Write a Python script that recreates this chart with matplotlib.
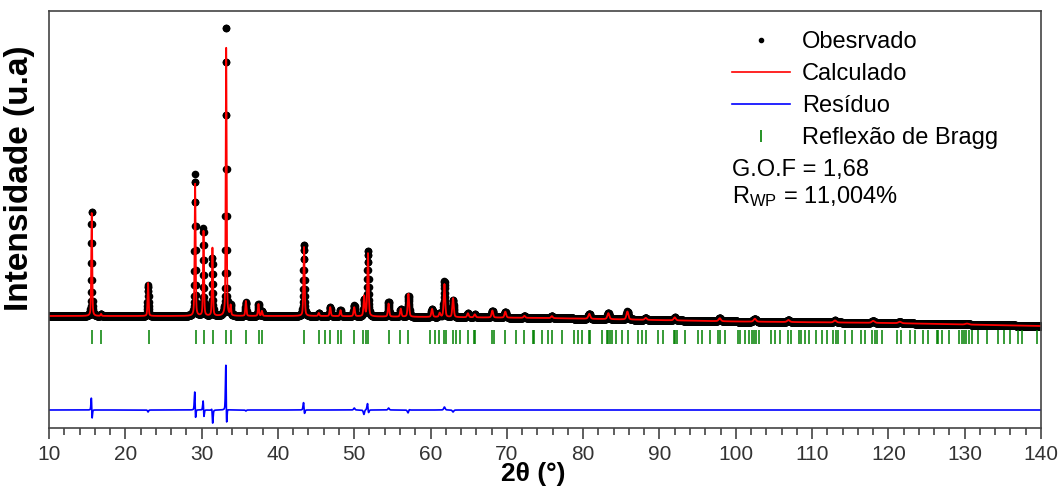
import numpy as np
import matplotlib
matplotlib.use("Agg")
import matplotlib.pyplot as plt
from matplotlib.lines import Line2D
from matplotlib.ticker import MultipleLocator

plt.rcParams['font.family'] = ['Liberation Sans', 'DejaVu Sans']
plt.rcParams['mathtext.default'] = 'regular'

# peaks (2theta, calc height, obs height, obs shift, fwhm)
peak_pos = [15.60, 16.82, 22.98, 29.15, 30.25, 31.42, 33.22, 33.80, 35.80, 37.45,
            37.90, 43.42, 45.35, 46.85, 48.20, 50.00, 51.30, 51.80, 54.50, 56.10,
            57.10, 60.20, 61.20, 61.82, 62.95, 64.90, 65.80, 68.10, 69.80, 72.30,
            75.90, 80.80, 83.30, 85.80, 88.20, 92.00, 97.90, 102.50, 106.90, 113.00,
            118.00, 121.50, 130.30]
calc_h = [103, 2, 33, 134, 86, 68, 268, 10, 15, 12,
          5, 69, 3, 9, 6, 9, 20, 63, 13, 8,
          23, 8, 4, 33, 19, 4, 3, 7, 6, 2,
          2, 5, 6, 8, 2, 3, 3, 3, 2, 2,
          2, 1.5, 1]
obs_h = [106, 2, 31, 142, 88, 58, 293, 10, 14, 12,
         5, 72, 3, 9, 6, 11, 16, 66, 15, 8,
         21, 8, 4, 36, 17, 4, 3, 7, 6, 2,
         2, 5, 6, 8, 2, 3, 3, 3, 2, 2,
         2, 1.5, 1]
obs_shift = [-0.01, 0, 0, -0.01, -0.01, -0.01, -0.01, 0, 0, 0,
             0, -0.01, 0, 0, 0, 0, 0.01, -0.01, 0, 0,
             0.01, 0, 0, 0, 0, 0, 0, 0, 0, 0,
             0, 0, 0, 0, 0, 0, 0, 0, 0, 0,
             0, 0, 0]
fwhm = [0.14, 0.14, 0.15, 0.15, 0.15, 0.15, 0.14, 0.15, 0.16, 0.16,
        0.16, 0.18, 0.18, 0.18, 0.18, 0.2, 0.2, 0.2, 0.2, 0.2,
        0.22, 0.22, 0.22, 0.22, 0.22, 0.24, 0.24, 0.24, 0.25, 0.25,
        0.26, 0.3, 0.3, 0.3, 0.3, 0.32, 0.34, 0.36, 0.38, 0.4,
        0.42, 0.44, 0.5]

# background anchor points
bg_x = [10, 45, 75, 100, 120, 140]
bg_y = [112, 112, 110, 106.5, 105, 102]

bragg = [15.64, 16.82, 23.06, 29.3, 30.27, 31.45, 33.24, 33.8, 35.78, 37.5, 37.9,
         43.42, 45.35, 46.17, 46.87, 47.9, 48.27, 50.0, 51.2, 51.55, 51.77,
         54.56, 56.04, 57.09, 59.97, 60.59, 61.16, 61.81, 62.0, 62.9, 63.34,
         63.9, 64.87, 65.74, 65.87, 68.06, 68.28, 69.76, 71.16, 72.3, 73.4,
         73.5, 74.6, 75.35, 75.88, 77.19, 78.76, 79.28, 79.89, 80.77, 80.9,
         82.43, 83.09, 83.3, 83.5, 83.75, 84.27, 85.14, 85.84, 87.24, 87.68,
         88.24, 89.86, 90.51, 91.96, 92.1, 92.3, 93.35, 95.0, 95.54, 96.59,
         97.72, 97.94, 98.6, 100.3, 100.6, 101.2, 101.74, 102.1, 102.4, 102.7,
         103.0, 104.6, 105.15, 105.8, 106.9, 107.3, 108.3, 108.6, 109.08, 109.65,
         110.48, 111.27, 111.9, 112.8, 113.1, 113.44, 114.3, 115.2, 116.4, 116.95,
         117.9, 118.25, 118.5, 119.2, 121.1, 121.67, 122.8, 123.5, 124.6, 125.2,
         126.35, 126.55, 127.0, 127.95, 129.2, 129.6, 129.9, 130.2, 130.5, 130.9,
         131.7, 132.9, 134.4, 135.2, 135.95, 136.95, 137.5, 139.45]

resid_offset = 18


def pv(x, p, h, w, eta=0.4):
    d = (x - p) / w
    return h * ((1 - eta) * np.exp(-4 * np.log(2) * d ** 2) + eta / (1 + 4 * d ** 2))


tt = np.arange(10, 140.001, 0.02)
background = np.interp(tt, bg_x, bg_y)
calc = background.copy()
obs = background.copy()
for p, hc, ho, s, w in zip(peak_pos, calc_h, obs_h, obs_shift, fwhm):
    calc += pv(tt, p, hc, w)
    obs += pv(tt, p + s, ho, w)
resid = obs - calc

fig = plt.figure(figsize=(10.6, 4.88), dpi=100)
ax = fig.add_axes([49 / 1060, 1 - 428 / 488, 992 / 1060, 417 / 488])

ax.plot(tt, obs, 'o', color='black', markersize=5.5, markeredgewidth=0)
ax.plot(tt, calc, color='red', lw=1.3)
ax.plot(tt, resid + resid_offset, color='blue', lw=1.2)
ax.vlines(bragg, 84, 98, color='#008000', lw=1.1)

ax.set_xlim(10, 140)
ax.set_ylim(0, 417)
ax.set_yticks([])
ax.xaxis.set_major_locator(MultipleLocator(10))
ax.xaxis.set_minor_locator(MultipleLocator(2))
ax.tick_params(axis='x', which='major', direction='out', length=8, width=1.1,
               labelsize=15, pad=4, color='#333333', labelcolor='#333333')
ax.tick_params(axis='x', which='minor', direction='out', length=5, width=1.1, color='#333333')
for sp in ax.spines.values():
    sp.set_color('#444444')
    sp.set_linewidth(1.2)

ax.set_xlabel('2θ (°)', fontsize=19, fontweight='bold', va='bottom')
ax.xaxis.set_label_coords(0.488, -0.139)
ax.set_ylabel('Intensidade (u.a)', fontsize=24, fontweight='bold')
ax.yaxis.set_label_coords(-0.014, 0.6)

handles = [
    Line2D([], [], ls='none', marker='o', color='black', markersize=3),
    Line2D([], [], color='red', lw=1.2),
    Line2D([], [], color='blue', lw=1.2),
    Line2D([], [], ls='none', marker='|', color='#008000', markersize=9, markeredgewidth=1.2),
]
labels = ['Obesrvado', 'Calculado', 'Resíduo', 'Reflexão de Bragg']
ax.legend(handles, labels, loc='upper left', bbox_to_anchor=(0.6885, 0.952),
          frameon=False, fontsize=17, handlelength=2.45, handletextpad=0.5,
          labelspacing=0.42, borderpad=0, borderaxespad=0)

ax.text(0.6885, 0.604, 'G.O.F = 1,68', transform=ax.transAxes, fontsize=17, va='baseline')
ax.text(0.6885, 0.5396, 'R$_{WP}$ = 11,004%', transform=ax.transAxes, fontsize=17, va='baseline')

fig.savefig('out.png', dpi=100)
